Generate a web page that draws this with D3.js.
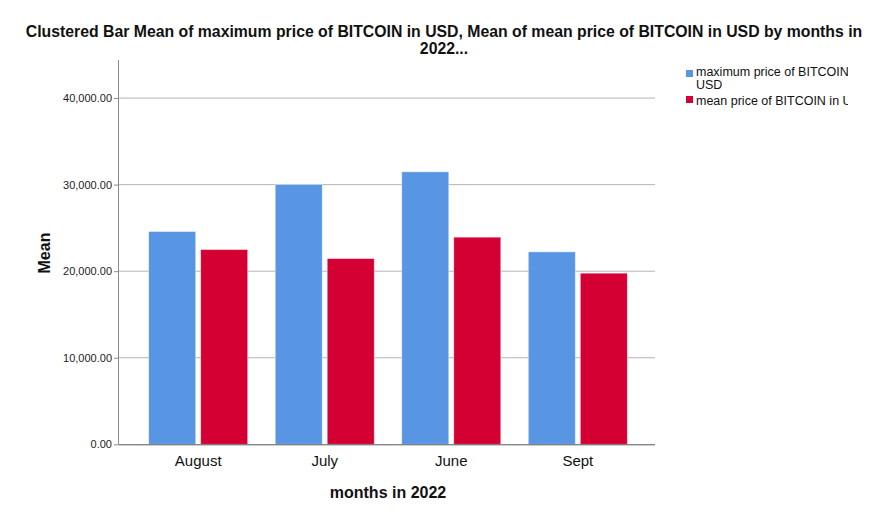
<!DOCTYPE html>
<html><head><meta charset="utf-8">
<script src="https://cdn.jsdelivr.net/npm/d3@7"></script>
<style>body{margin:0;background:#fff}svg{display:block;font-family:"Liberation Sans",Arial,sans-serif}</style>
</head><body><svg id="c" width="894" height="516"></svg>
<script>
const months = ["August", "July", "June", "Sept"];
const maxPrice = [24580, 30010, 31480, 22230];
const meanPrice = [22500, 21460, 23930, 19770];
const seriesNames = ["maximum price of BITCOIN", "mean price of BITCOIN in USD"];
const seriesNameLine2 = "USD";
const seriesColors = ["#5895e3", "#d40033"];
const yTicks = [0, 10000, 20000, 30000, 40000];

const svg = d3.select("#c");
const L = 119, R = 655, T = 60, B = 444.3;
const y = d3.scaleLinear().domain([0, 44400]).range([B, T]);
const x = d3.scaleBand().domain(months).range([L + 2, R]).paddingInner(0).paddingOuter(0.11);
const bw = 47, gap = 5;

// gridlines
svg.append("g").selectAll("line").data(yTicks.filter(d => d > 0)).join("line")
  .attr("x1", L).attr("x2", R).attr("y1", d => y(d)).attr("y2", d => y(d))
  .attr("stroke", "#b4b4b4").attr("stroke-width", 1);

// bars
const data = months.map((m, i) => ({m, vals: [maxPrice[i], meanPrice[i]]}));
const g = svg.append("g");
data.forEach(d => {
  const c = x(d.m) + x.bandwidth() / 2;
  d.vals.forEach((v, k) => {
    const x0 = k === 0 ? c - gap / 2 - bw : c + gap / 2;
    g.append("rect").attr("x", x0).attr("y", y(v)).attr("width", bw).attr("height", B - y(v))
      .attr("fill", seriesColors[k]).attr("stroke", "#ffffff").attr("stroke-opacity", 0.5).attr("stroke-width", 0.8);
  });
});

// axes
const ya = svg.append("g").attr("transform", `translate(${L},0)`)
  .call(d3.axisLeft(y).tickValues(yTicks).tickSize(5).tickFormat(d3.format(",.2f")));
ya.select(".domain").attr("stroke", "#8a8a8a").attr("d", `M-0.5,${B}V${T}`);
ya.selectAll(".tick line").attr("stroke", "#8a8a8a").attr("x1", -5).attr("x2", 0);
ya.selectAll(".tick text").attr("font-size", 11).attr("fill", "#222").attr("font-family", "Liberation Sans, Arial, sans-serif").attr("x", -7);

const xa = svg.append("g").attr("transform", `translate(0,${B})`)
  .call(d3.axisBottom(x).tickSize(0));
xa.select(".domain").attr("stroke", "#555").attr("d", `M${L},0.5H${R}`);
xa.selectAll(".tick text").attr("font-size", 15).attr("fill", "#111").attr("dy", "0").attr("y", 22)
  .attr("font-family", "Liberation Sans, Arial, sans-serif");

// title
const title = svg.append("text").attr("text-anchor", "middle").attr("font-weight", "bold").attr("font-size", 15.8).attr("fill", "#111");
title.append("tspan").attr("x", 444).attr("y", 37).text("Clustered Bar Mean of maximum price of BITCOIN in USD, Mean of mean price of BITCOIN in USD by months in");
title.append("tspan").attr("x", 444).attr("y", 54).text("2022...");

// axis titles
svg.append("text").attr("transform", "translate(50,253) rotate(-90)").attr("text-anchor", "middle")
  .attr("font-weight", "bold").attr("font-size", 16).attr("fill", "#111").text("Mean");
svg.append("text").attr("x", 388).attr("y", 498).attr("text-anchor", "middle")
  .attr("font-weight", "bold").attr("font-size", 16).attr("fill", "#111").text("months in 2022");

// legend
svg.append("defs").append("clipPath").attr("id", "lc").append("rect").attr("x", 680).attr("y", 55).attr("width", 168).attr("height", 60);
const lg = svg.append("g").attr("clip-path", "url(#lc)");
lg.append("rect").attr("x", 686).attr("y", 70).attr("width", 7).attr("height", 7).attr("fill", seriesColors[0]);
const t1 = lg.append("text").attr("font-size", 12.5).attr("fill", "#111");
t1.append("tspan").attr("x", 696).attr("y", 75.5).text(seriesNames[0]);
t1.append("tspan").attr("x", 696).attr("y", 88.5).text(seriesNameLine2);
lg.append("rect").attr("x", 686).attr("y", 96).attr("width", 7).attr("height", 7).attr("fill", seriesColors[1]);
lg.append("text").attr("font-size", 12.5).attr("fill", "#111").attr("x", 696).attr("y", 105).text(seriesNames[1]);
</script></body></html>
